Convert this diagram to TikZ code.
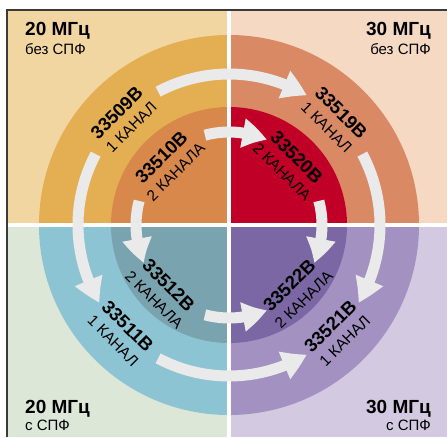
\documentclass[tikz,border=0pt]{standalone}
\usepackage{fontspec}
\setmainfont{Liberation Sans}
\usetikzlibrary{arrows.meta, bending}

\definecolor{tlback}{HTML}{F2D6A1}
\definecolor{tlouter}{HTML}{E4AF52}
\definecolor{tlinner}{HTML}{D8884A}
\definecolor{trback}{HTML}{F5D9C3}
\definecolor{trouter}{HTML}{D98A65}
\definecolor{trinner}{HTML}{C10028}
\definecolor{blback}{HTML}{DCE7D8}
\definecolor{blouter}{HTML}{8DC4D3}
\definecolor{blinner}{HTML}{79A3AF}
\definecolor{brback}{HTML}{D3C9E1}
\definecolor{brouter}{HTML}{A291C1}
\definecolor{brinner}{HTML}{7A67A3}
\definecolor{arrowgray}{HTML}{EAEAEA}
\definecolor{framegray}{HTML}{3A3A3A}

\begin{document}
\begin{tikzpicture}[x=1pt, y=1pt,
    flow/.style = {draw=arrowgray, line width=11pt, -{Triangle[width=28pt, length=25pt, bend]}},
    model/.style = {align=center, inner sep=0pt, font=\fontsize{15.5}{19.5}\selectfont},
    corner/.style = {inner sep=0pt, font=\bfseries\fontsize{19}{22}\selectfont},
    sub/.style = {inner sep=0pt, font=\fontsize{15}{18}\selectfont}]
\useasboundingbox (0,0) rectangle (447,437);

% backgrounds
\fill[tlback] (7,212) rectangle (229,427);
\fill[trback] (229,212) rectangle (447,427);
\fill[blback] (7,0) rectangle (229,212);
\fill[brback] (229,0) rectangle (447,212);

\begin{scope}[shift={(229,212)}]
% rings
\fill[tlouter] (0,0) -- (90:190) arc[start angle=90, end angle=180, radius=190] -- cycle;
\fill[trouter] (0,0) -- (0:190) arc[start angle=0, end angle=90, radius=190] -- cycle;
\fill[blouter] (0,0) -- (180:190) arc[start angle=180, end angle=270, radius=190] -- cycle;
\fill[brouter] (0,0) -- (270:190) arc[start angle=270, end angle=360, radius=190] -- cycle;
\fill[tlinner] (0,0) -- (90:118) arc[start angle=90, end angle=180, radius=118] -- cycle;
\fill[trinner] (0,0) -- (0:118) arc[start angle=0, end angle=90, radius=118] -- cycle;
\fill[blinner] (0,0) -- (180:118) arc[start angle=180, end angle=270, radius=118] -- cycle;
\fill[brinner] (0,0) -- (270:118) arc[start angle=270, end angle=360, radius=118] -- cycle;
\end{scope}

% dividers and frame
\draw[white, line width=4.5pt] (229,0) -- (229,427);
\draw[white, line width=4.5pt] (7,212) -- (447,212);
\draw[framegray, line width=1.2pt] (7,0) -- (7,427) -- (447,427);

\begin{scope}[shift={(229,212)}]
% models
\node[model, rotate=45]  (n509) at (135:149) {\textbf{\fontsize{18.5}{19.5}\selectfont 33509B}\\1 КАНАЛ};
\node[model, rotate=-45] (n519) at (45:149)  {\textbf{\fontsize{18.5}{19.5}\selectfont 33519B}\\1 КАНАЛ};
\node[model, rotate=-45] (n511) at (225:153) {\textbf{\fontsize{18.5}{19.5}\selectfont 33511B}\\1 КАНАЛ};
\node[model, rotate=45]  (n521) at (315:153) {\textbf{\fontsize{18.5}{19.5}\selectfont 33521B}\\1 КАНАЛ};
\node[model, rotate=45]  (n510) at (135:86)  {\textbf{\fontsize{18.5}{19.5}\selectfont 33510B}\\2 КАНАЛА};
\node[model, rotate=-45] (n520) at (45:86)   {\textbf{\fontsize{18.5}{19.5}\selectfont 33520B}\\2 КАНАЛА};
\node[model, rotate=-45] (n512) at (225:95)  {\textbf{\fontsize{18.5}{19.5}\selectfont 33512B}\\2 КАНАЛА};
\node[model, rotate=45]  (n522) at (315:95)  {\textbf{\fontsize{18.5}{19.5}\selectfont 33522B}\\2 КАНАЛА};

% arrows, outer ring
\coordinate (o1) at (118:151);
\coordinate (o2) at (152:151);
\coordinate (o3) at (28:151);
\coordinate (o4) at (242:151);
\draw[flow] (o1) arc[start angle=118, end angle=59, radius=151];
\draw[flow] (o2) arc[start angle=152, end angle=211, radius=151];
\draw[flow] (o3) arc[start angle=28, end angle=-31, radius=151];
\draw[flow] (o4) arc[start angle=242, end angle=301, radius=151];
% arrows, inner ring
\coordinate (i1) at (105:93);
\coordinate (i2) at (165:93);
\coordinate (i3) at (15:93);
\coordinate (i4) at (255:93);
\draw[flow] (i1) arc[start angle=105, end angle=66, radius=93];
\draw[flow] (i2) arc[start angle=165, end angle=204, radius=93];
\draw[flow] (i3) arc[start angle=15, end angle=-24, radius=93];
\draw[flow] (i4) arc[start angle=255, end angle=294, radius=93];
\end{scope}

% corner texts
\node[corner, anchor=base west] (tlf) at (25,401) {20 МГц};
\node[sub, anchor=base west]    (tls) at (25,382) {без СПФ};
\node[corner, anchor=base east] (trf) at (431,401) {30 МГц};
\node[sub, anchor=base east]    (trs) at (431,382) {без СПФ};
\node[corner, anchor=base west] (blf) at (25,24) {20 МГц};
\node[sub, anchor=base west]    (bls) at (25,7) {с СПФ};
\node[corner, anchor=base east] (brf) at (431,24) {30 МГц};
\node[sub, anchor=base east]    (brs) at (431,7) {с СПФ};
\end{tikzpicture}
\end{document}
